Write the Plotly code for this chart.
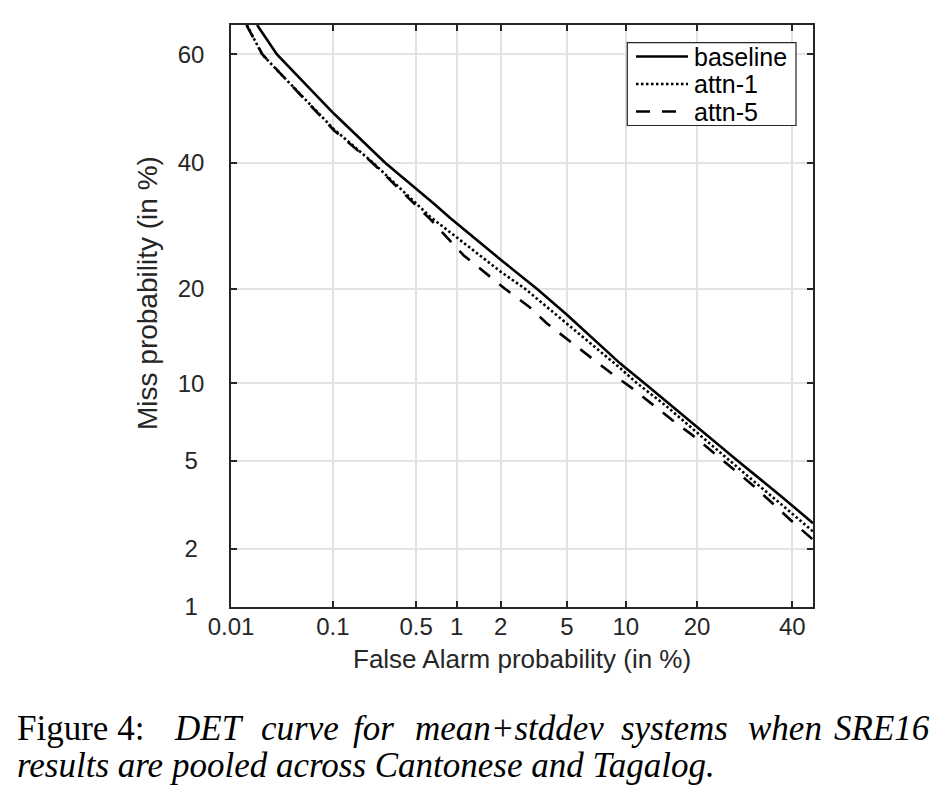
from statistics import NormalDist
import plotly.graph_objects as go

# ---------------- data (percent) ----------------
x_tick_vals = [0.01, 0.1, 0.5, 1, 2, 5, 10, 20, 40]
x_tick_text = ["0.01", "0.1", "0.5", "1", "2", "5", "10", "20", "40"]
y_tick_vals = [1, 2, 5, 10, 20, 40, 60]
y_tick_text = ["1", "2", "5", "10", "20", "40", "60"]
x_limits = [0.01, 45]
y_limits = [1, 65.2]

baseline_fa = [0.0187, 0.0296, 0.102, 0.284, 0.68, 0.90, 2.01, 3.37, 5.0, 9.42, 12.67, 14.27,
               20.05, 28.29, 37.2, 45]
baseline_miss = [65.2, 60, 49.1, 40, 32.9, 30.5, 24.0, 20, 16.8, 11.7, 9.74, 8.96,
                 6.87, 4.91, 3.54, 2.65]

attn1_fa = [0.0147, 0.021, 0.102, 0.225, 0.64, 0.90, 2.01, 2.86, 5.0, 9.42, 11.27, 15.2,
            20.05, 24.27, 30.41, 37.2, 45]
attn1_miss = [65.2, 60, 46.2, 40, 30.7, 28.2, 22.3, 20, 15.8, 11.28, 10, 8.22,
              6.51, 5.41, 4.22, 3.26, 2.42]

attn5_fa = [0.0145, 0.0212, 0.102, 0.222, 0.64, 1.12, 2.14, 3.0, 3.85, 5.11, 6.68, 8.43, 10.69, 12.93,
            15.97, 19.15, 22.7, 26.6, 30.8, 35.3, 39.5, 45]
attn5_miss = [65.2, 60, 46.0, 40, 30.3, 24.7, 20, 17.8, 15.8, 14.0, 12.35, 10.9, 9.6, 8.48,
              7.31, 6.39, 5.47, 4.67, 3.96, 3.28, 2.75, 2.21]

series_names = ["baseline", "attn-1", "attn-5"]

# ---------------- probit (normal deviate) scale ----------------
_nd = NormalDist()


def probit(pcts):
    return [_nd.inv_cdf(p / 100.0) for p in pcts]


W, H = 950, 804
OFF = 8                      # page body margin
L, T = 231 - OFF, 25 - OFF   # plot area in page pixels: x 231..813, y 25..607
pw, ph = 582, 582
R, B = W - L - pw, H - T - ph


def px_x(px):
    return (px - OFF - L) / pw


def px_y(py):
    return (H - B - (py - OFF)) / ph


fig = go.Figure()
dash_styles = ["solid", "2.5px,2.5px", "14px,12px"]
for name, fa, miss, dsh in zip(series_names,
                               [baseline_fa, attn1_fa, attn5_fa],
                               [baseline_miss, attn1_miss, attn5_miss],
                               dash_styles):
    fig.add_trace(go.Scatter(x=probit(fa), y=probit(miss), mode="lines", name=name,
                             line=dict(color="black", width=2.6, dash=dsh), showlegend=False))

sans = "Liberation Sans, Arial, sans-serif"
axis_common = dict(
    showgrid=True, gridcolor="#e3e3e3", gridwidth=1.5,
    showline=True, linecolor="#262626", linewidth=1.5, mirror="ticks",
    ticks="inside", ticklen=6, tickcolor="#262626", tickwidth=1.5,
    zeroline=False,
    tickfont=dict(family=sans, size=24, color="#262626"),
)

fig.update_xaxes(range=probit(x_limits), tickmode="array", tickvals=probit(x_tick_vals),
                 ticktext=x_tick_text, ticklabelstandoff=-3, **axis_common)
fig.update_yaxes(range=probit(y_limits), tickmode="array", tickvals=probit(y_tick_vals),
                 ticktext=[t + "\u00a0" if len(t) == 1 else t for t in y_tick_text],
                 ticklabelstandoff=20, **axis_common)

annotations = [
    dict(text="False Alarm probability (in %)", x=px_x(522), y=px_y(659), xref="paper", yref="paper",
         showarrow=False, xanchor="center", yanchor="middle",
         font=dict(family=sans, size=26, color="#262626")),
    dict(text="Miss probability (in %)", x=px_x(147), y=px_y(293), xref="paper", yref="paper",
         showarrow=False, xanchor="center", yanchor="middle", textangle=-90,
         font=dict(family=sans, size=28, color="#262626")),
]

# ---------------- legend (drawn box) ----------------
shapes = [dict(type="rect", xref="paper", yref="paper", x0=px_x(627.3), x1=px_x(796),
               y0=px_y(42.7), y1=px_y(125.5), line=dict(color="#262626", width=1.2),
               fillcolor="white", layer="above")]
rows = [56.5, 84, 111.5]
sample_end = [688, 688, 680]
for name, dsh, ry, xe in zip(series_names, dash_styles, rows, sample_end):
    shapes.append(dict(type="line", xref="paper", yref="paper", x0=px_x(636), x1=px_x(xe),
                       y0=px_y(ry), y1=px_y(ry), line=dict(color="black", width=2.6, dash=dsh),
                       layer="above"))
    annotations.append(dict(text=name, x=px_x(692), y=px_y(ry), xref="paper", yref="paper",
                            showarrow=False, xanchor="left", yanchor="middle",
                            font=dict(family=sans, size=25, color="black")))

# ---------------- caption ----------------
cap_font = dict(family="Liberation Serif, Times New Roman, serif", size=35, color="black")
line1 = [("Figure 4:", 15, "left", False), ("DET", 208.6, "center", True),
         ("curve", 299.5, "center", True), ("for", 373.8, "center", True),
         ("mean+stddev", 509, "center", True), ("systems", 674.4, "center", True),
         ("when", 784.6, "center", True), ("SRE16", 932, "right", True)]
for w, xpx, anc, it in line1:
    annotations.append(dict(text=f"<i>{w}</i>" if it else w, x=px_x(xpx), y=px_y(728),
                            xref="paper", yref="paper", showarrow=False,
                            xanchor=anc, yanchor="middle", font=cap_font))
annotations.append(dict(text="<i>results are pooled across Cantonese and Tagalog.</i>",
                        x=px_x(15), y=px_y(765), xref="paper", yref="paper", showarrow=False,
                        xanchor="left", yanchor="middle", font=cap_font))

fig.update_layout(
    width=W, height=H,
    margin=dict(l=L, r=R, t=T, b=B, pad=0),
    paper_bgcolor="white", plot_bgcolor="white",
    annotations=annotations, shapes=shapes,
    showlegend=False,
)

fig.write_html("out.html")
